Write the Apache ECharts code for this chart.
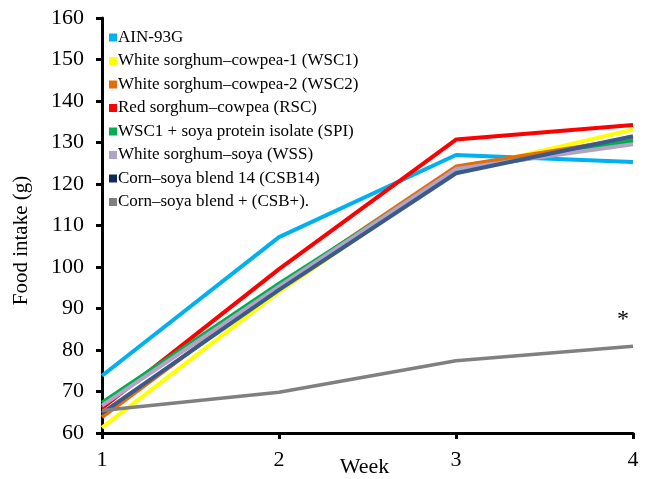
<!DOCTYPE html>
<html><head><meta charset="utf-8">
<script src="https://cdn.jsdelivr.net/npm/echarts@6/dist/echarts.min.js"></script>
<style>html,body{margin:0;padding:0;background:#fff}#c{width:648px;height:479px}</style>
</head><body><div id="c"></div>
<script>
const weeks = ['1','2','3','4'];
const names = ['AIN-93G','White sorghum\u2013cowpea-1 (WSC1)','White sorghum\u2013cowpea-2 (WSC2)','Red sorghum\u2013cowpea (RSC)','WSC1 + soya protein isolate (SPI)','White sorghum\u2013soya (WSS)','Corn\u2013soya blend 14 (CSB14)','Corn\u2013soya blend + (CSB+).'];
const ain = [73.8, 107.2, 127.0, 125.3];
const wsc1 = [61.3, 94.0, 123.2, 133.1];
const wsc2 = [63.8, 95.5, 124.2, 131.0];
const rsc = [66.0, 99.5, 130.7, 134.2];
const spi = [67.3, 96.0, 123.2, 130.4];
const wss = [66.6, 95.3, 123.6, 129.6];
const csb14 = [64.8, 94.5, 122.6, 131.5];
const csbPlus = [65.4, 69.8, 77.4, 80.9];
const yTicks = [60,70,80,90,100,110,120,130,140,150,160];
const seriesData = [ain, wsc1, wsc2, rsc, spi, wss, csb14, csbPlus];
const iconColors = ['#00B0F0','#FFFF00','#E46C0A','#FF0000','#00B050','#B3A2C7','#0E2A5C','#808080'];
const lineColors = ['#00B0F0','#FFFF00','#E46C0A','#FF0000','#00B050','#B3A2C7','#3A5A8C','#808080'];
const serif = '"Liberation Serif","DejaVu Serif",serif';
const chart = echarts.init(document.getElementById('c'));
chart.setOption({
  animation:false,
  backgroundColor:'#fff',
  grid:{left:102,right:15,top:18,bottom:46,containLabel:false,outerBoundsMode:'none'},
  legend:{orient:'vertical',left:104,top:24,itemWidth:8,itemHeight:8,itemGap:6.5,icon:'rect',
    textStyle:{fontFamily:serif,fontSize:17,color:'#000',padding:[0,0,0,-4]},
    data:names},
  xAxis:{type:'category',data:weeks,boundaryGap:false,
    name:'Week',nameLocation:'middle',nameGap:23,nameMoveOverlap:false,
    nameTextStyle:{fontFamily:serif,fontSize:22,color:'#000',padding:[0,6,0,0]},
    axisLine:{lineStyle:{color:'#000',width:3}},
    axisTick:{show:true,length:6,lineStyle:{color:'#000',width:3},alignWithLabel:true},
    axisLabel:{fontFamily:serif,fontSize:22,color:'#000',margin:16},
    splitLine:{show:false}},
  yAxis:{type:'value',min:60,max:160,interval:10,
    name:'Food intake (g)',nameLocation:'middle',nameGap:70,nameMoveOverlap:false,
    nameTextStyle:{fontFamily:serif,fontSize:21,color:'#000',padding:[0,30,0,0]},
    axisLine:{show:true,lineStyle:{color:'#000',width:3}},
    axisTick:{show:true,length:6,lineStyle:{color:'#000',width:3}},
    axisLabel:{fontFamily:serif,fontSize:22,color:'#000',margin:18,
      formatter:v=>yTicks.includes(v)?String(v):''},
    splitLine:{show:false}},
  series:seriesData.map((d,i)=>{
    const s = {
      name:names[i],type:'line',data:d,
      showSymbol:false,symbol:'none',
      itemStyle:{color:iconColors[i]},
      lineStyle:{color:lineColors[i],width:i===7?3.5:4},
      emphasis:{disabled:true}
    };
    if(i===7){
      s.markPoint={symbol:'circle',symbolSize:1,itemStyle:{color:'rgba(0,0,0,0)'},
        label:{show:true,formatter:'*',offset:[-10,-27],fontFamily:serif,fontSize:24,color:'#000'},
        data:[{coord:[weeks[3], d[3]]}]};
    }
    return s;
  })
});
</script></body></html>
